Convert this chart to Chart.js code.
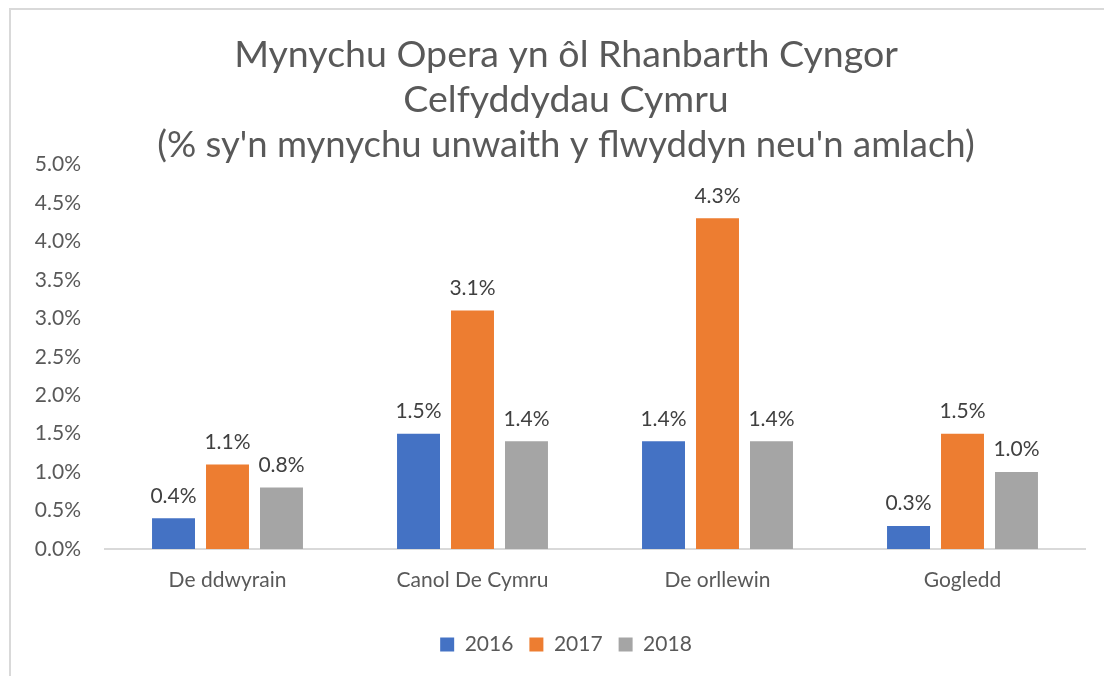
<!DOCTYPE html>
<html>
<head>
<meta charset="utf-8">
<script src="https://cdn.jsdelivr.net/npm/chart.js@4"></script>
<style>
  html, body { margin: 0; padding: 0; background: #fff; overflow: hidden; width: 1104px; height: 676px; }
  #frame { position: absolute; left: 9px; top: 8px; width: 1200px; height: 700px; border-left: 2px solid #d9d9d9; border-top: 2px solid #d9d9d9; }
  #wrap { position: absolute; left: 10px; top: 10px; width: 1112px; height: 666px; }
</style>
</head>
<body>
<div id="frame"></div>
<div id="wrap"><canvas id="c"></canvas></div>
<script>
const categories = ['De ddwyrain', 'Canol De Cymru', 'De orllewin', 'Gogledd'];
const seriesNames = ['2016', '2017', '2018'];
const values2016 = [0.4, 1.5, 1.4, 0.3];
const values2017 = [1.1, 3.1, 4.3, 1.5];
const values2018 = [0.8, 1.4, 1.4, 1.0];
const colors = ['#4472C4', '#ED7D31', '#A5A5A5'];
const titleLines = ['Mynychu Opera yn ôl Rhanbarth Cyngor', 'Celfyddydau Cymru'];
const subtitleText = "(% sy'n mynychu unwaith y flwyddyn neu'n amlach)";

const FONT = 'Lato, "Open Sans", sans-serif';

const dataLabels = {
  id: 'dataLabels',
  afterDatasetsDraw(chart) {
    const ctx = chart.ctx;
    ctx.save();
    ctx.font = '21px ' + FONT;
    ctx.fillStyle = '#404040';
    ctx.textAlign = 'center';
    ctx.textBaseline = 'bottom';
    chart.data.datasets.forEach((ds, i) => {
      const meta = chart.getDatasetMeta(i);
      meta.data.forEach((bar, j) => {
        ctx.fillText(ds.data[j].toFixed(1) + '%', bar.x, bar.y - 12);
      });
    });
    ctx.restore();
  }
};

new Chart(document.getElementById('c'), {
  type: 'bar',
  data: {
    labels: categories,
    datasets: [
      { label: seriesNames[0], data: values2016, backgroundColor: colors[0], xAxisID: 'x', yAxisID: 'y' },
      { label: seriesNames[1], data: values2017, backgroundColor: colors[1], xAxisID: 'x', yAxisID: 'y' },
      { label: seriesNames[2], data: values2018, backgroundColor: colors[2], xAxisID: 'x', yAxisID: 'y' }
    ]
  },
  options: {
    responsive: true,
    maintainAspectRatio: false,
    animation: false,
    layout: { padding: { left: 0, right: 0, top: 0, bottom: 11 } },
    datasets: { bar: { categoryPercentage: 0.661, barPercentage: 0.796 } },
    plugins: {
      title: {
        display: true,
        text: titleLines,
        color: '#595959',
        font: { family: FONT, size: 37.5, weight: 'normal', lineHeight: 1.2 },
        padding: { top: 22, bottom: 0 }
      },
      subtitle: {
        display: true,
        text: subtitleText,
        color: '#595959',
        font: { family: FONT, size: 36.5, weight: 'normal', lineHeight: 1.0 },
        padding: { top: 5, bottom: 1 }
      },
      legend: {
        position: 'bottom',
        labels: {
          boxWidth: 14, boxHeight: 14, padding: 16,
          color: '#595959',
          font: { family: FONT, size: 21 }
        }
      },
      tooltip: { enabled: false }
    },
    scales: {
      x: {
        grid: { display: false, drawTicks: false },
        border: { display: true, color: '#d9d9d9', width: 2 },
        afterFit(scale) { scale.height = 69; },
        ticks: { color: '#595959', font: { family: FONT, size: 21 }, padding: 19 }
      },
      y: {
        position: 'left',
        min: 0, max: 5,
        grid: { display: false, drawTicks: false },
        border: { display: false },
        afterFit(scale) { scale.width = 95; },
        ticks: {
          stepSize: 0.5,
          padding: 24,
          color: '#595959',
          font: { family: FONT, size: 21 },
          callback: v => v.toFixed(1) + '%'
        }
      },
      yRight: {
        position: 'right',
        display: true,
        grid: { display: false, drawTicks: false },
        border: { display: false },
        ticks: { display: false },
        afterFit(scale) { scale.width = 37; }
      }
    }
  },
  plugins: [dataLabels]
});
</script>
</body>
</html>
